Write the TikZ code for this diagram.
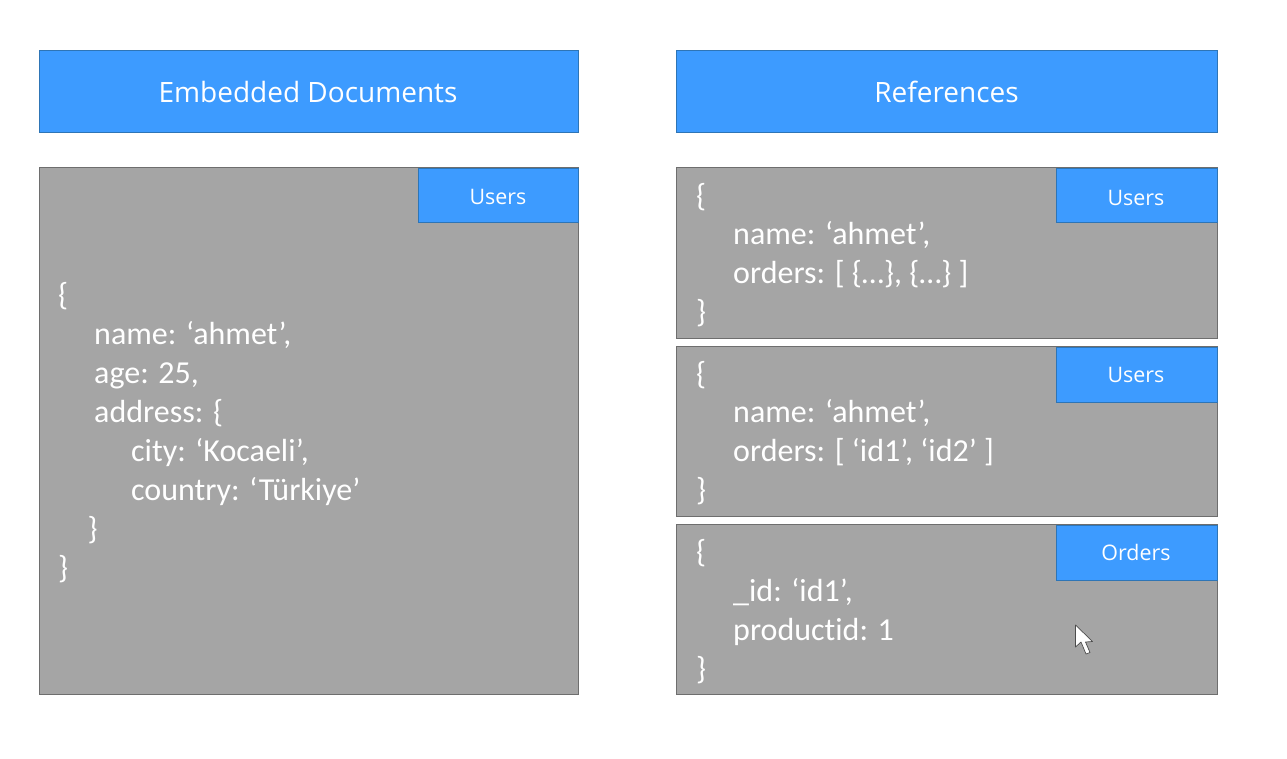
\documentclass[tikz,border=0pt]{standalone}
\usepackage{fontspec}
\setmainfont{Open Sans}
\newfontfamily\codefont[Ligatures=NoCommon]{Carlito}
\definecolor{hdr}{HTML}{3D9BFF}
\definecolor{hdre}{HTML}{2E75B6}
\definecolor{pan}{HTML}{A5A5A5}
\definecolor{pane}{HTML}{6E6E6E}
\tikzset{
 x=1pt,y=-1pt,
 headbox/.style={draw=hdre,fill=hdr,line width=1pt},
 panel/.style={draw=pane,fill=pan,line width=1pt},
 title/.style={text=white,font=\fontsize{28}{32}\selectfont,inner sep=0},
 tag/.style={text=white,font=\fontsize{21.4}{25}\selectfont,inner sep=0,yshift=-0.7pt},
 code/.style={text=white,font=\codefont\fontsize{32}{36}\selectfont,anchor=base west,inner sep=0,yshift=-1.5pt},
}
\begin{document}
\begin{tikzpicture}
\useasboundingbox (0,0) rectangle (1287,759);
\node[headbox,minimum width=539.5,minimum height=82,inner sep=0,anchor=north west] (h1) at (38.5,50.5) {};
\node[title] (h1t) at (308,92) {Embedded Documents};
\node[headbox,minimum width=540.5,minimum height=82,inner sep=0,anchor=north west] (h2) at (676,50.5) {};
\node[title] (h2t) at (946.5,92) {References};
\node[panel,minimum width=539.5,minimum height=526,inner sep=0,anchor=north west] (p1) at (38.5,167.5) {};
\node[panel,minimum width=540.5,minimum height=170,inner sep=0,anchor=north west] (p2) at (676,167.5) {};
\node[panel,minimum width=540.5,minimum height=170,inner sep=0,anchor=north west] (p3) at (676,345.5) {};
\node[panel,minimum width=540.5,minimum height=170,inner sep=0,anchor=north west] (p4) at (676,523.5) {};
\node[headbox,minimum width=160.5,minimum height=54,inner sep=0,anchor=north west] (t1) at (417.5,168.5) {};
\node[tag] (t1t) at (498,196) {Users};
\node[headbox,minimum width=160.5,minimum height=54,inner sep=0,anchor=north west] (t2) at (1056,168.5) {};
\node[tag] (t2t) at (1136,197) {Users};
\node[headbox,minimum width=160.5,minimum height=55,inner sep=0,anchor=north west] (t3) at (1056,346.5) {};
\node[tag] (t3t) at (1136,374) {Users};
\node[headbox,minimum width=160.5,minimum height=55,inner sep=0,anchor=north west] (t4) at (1056,524.5) {};
\node[tag] (t4t) at (1136,552) {Orders};
\node[code] (a1) at (58,304) {\{};
\node[code] (a2) at (94,343) {name: ‘ahmet’,};
\node[code] (a3) at (94,382) {age: 25,};
\node[code] (a4) at (94,421) {address: \{};
\node[code] (a5) at (131,460) {city: ‘Kocaeli’,};
\node[code] (a6) at (131,499) {country: ‘Türkiye’};
\node[code] (a7) at (87.5,538) {\}};
\node[code] (a8) at (58,577) {\}};
\node[code] (b1) at (696,205) {\{};
\node[code] (b2) at (733,243) {name: ‘ahmet’,};
\node[code] (b3) at (733,282) {orders: [ \{…\}, \{…\} ]};
\node[code] (b4) at (696,321) {\}};
\node[code] (c1) at (696,383) {\{};
\node[code] (c2) at (733,421) {name: ‘ahmet’,};
\node[code] (c3) at (733,460) {orders: [ ‘id1’, ‘id2’ ]};
\node[code] (c4) at (696,499) {\}};
\node[code] (d1) at (696,561) {\{};
\node[code] (d2) at (733,600) {\_id: ‘id1’,};
\node[code] (d3) at (733,639) {productid: 1};
\node[code] (d4) at (696,678) {\}};
\draw[black!70,fill=white,line width=0.7pt,line join=round] (1075.5,625) -- (1075.5,647) -- (1081,642) -- (1086,654) -- (1090,652.5) -- (1085.5,642) -- (1092.5,641.5) -- cycle;
\end{tikzpicture}
\end{document}
